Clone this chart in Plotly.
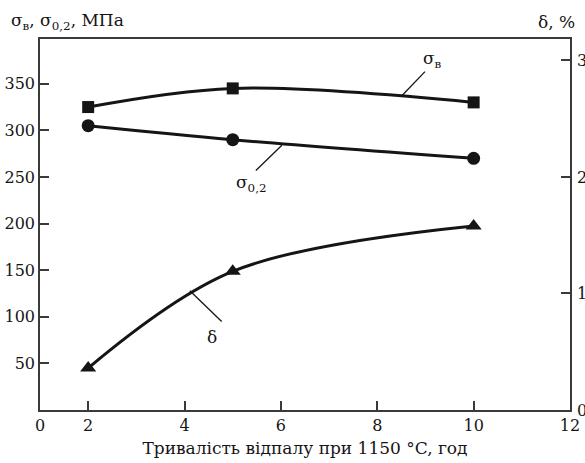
import plotly.graph_objects as go

# Data
hours = [2, 5, 10]
sigma_b = [325, 345, 330]      # MPa
sigma_02 = [305, 290, 270]     # MPa
delta = [0.36, 1.19, 1.58]     # %

x_tickvals = [1, 2, 4, 6, 8, 10, 12]
x_ticktext = ["0", "2", "4", "6", "8", "10", "12"]
y_tickvals = [50, 100, 150, 200, 250, 300, 350]
y2_tickvals = [0, 1, 2, 3]

FONT = "DejaVu Serif"
INK = "#151515"
AXC = "#3a3a3a"
FS = 16
FT = 17

fig = go.Figure()
fig.add_trace(go.Scatter(x=hours, y=sigma_b, mode="lines+markers",
                         line=dict(color=INK, width=3, shape="spline", smoothing=1.0),
                         marker=dict(symbol="square", size=12, color=INK),
                         showlegend=False))
fig.add_trace(go.Scatter(x=hours, y=sigma_02, mode="lines+markers",
                         line=dict(color=INK, width=3, shape="spline", smoothing=1.0),
                         marker=dict(symbol="circle", size=13, color=INK),
                         showlegend=False))
fig.add_trace(go.Scatter(x=hours, y=delta, mode="lines+markers", yaxis="y2",
                         line=dict(color=INK, width=3, shape="spline", smoothing=1.0),
                         marker=dict(symbol="triangle-up", size=14, color=INK),
                         showlegend=False))

# leader lines (x0, y0, x1, y1) in data coords, and labels
leaders = [
    (8.49, 336, 8.99, 363),
    (6.02, 284, 5.48, 257),
    (4.11, 128, 4.77, 95),
]
labels = [
    (9.15, 376, "σ<sub>в</sub>"),
    (5.38, 243, "σ<sub>0,2</sub>"),
    (4.57, 78, "δ"),
]
for x0, y0, x1, y1 in leaders:
    fig.add_shape(type="line", x0=x0, y0=y0, x1=x1, y1=y1, xref="x", yref="y",
                  line=dict(color=INK, width=1.3))
for lx, ly, txt in labels:
    fig.add_annotation(x=lx, y=ly, xref="x", yref="y", text=txt, showarrow=False,
                       font=dict(family=FONT, size=FT, color=INK))

fig.add_annotation(x=-0.058, y=1.047, xref="paper", yref="paper", xanchor="left",
                   yanchor="middle", text="σ<sub>в</sub>, σ<sub>0,2</sub>, МПа",
                   showarrow=False, font=dict(family=FONT, size=FT, color=INK))
fig.add_annotation(x=0.935, y=1.047, xref="paper", yref="paper", xanchor="left",
                   yanchor="middle", text="δ, %",
                   showarrow=False, font=dict(family=FONT, size=FT, color=INK))

fig.update_layout(
    width=585, height=463, autosize=False,
    margin=dict(l=40, r=15, t=39, b=53),
    paper_bgcolor="white", plot_bgcolor="white",
    font=dict(family=FONT, size=FS, color=INK),
    xaxis=dict(range=[1, 12], tickvals=x_tickvals, ticktext=x_ticktext,
               ticks="inside", ticklen=9, tickwidth=1.5, tickcolor=AXC,
               showline=True, linecolor=AXC, linewidth=1.5, mirror=True,
               showgrid=False, zeroline=False, automargin=False,
               tickfont=dict(family=FONT, size=FS),
               title=dict(text="Тривалість відпалу при 1150 °C, год",
                          font=dict(family=FONT, size=FT), standoff=8)),
    yaxis=dict(range=[0, 398], tickvals=y_tickvals,
               ticks="inside", ticklen=9, tickwidth=1.5, tickcolor=AXC,
               showline=True, linecolor=AXC, linewidth=1.5, automargin=False,
               tickfont=dict(family=FONT, size=FS),
               showgrid=False, zeroline=False),
    yaxis2=dict(range=[0, 3.184], tickvals=y2_tickvals, overlaying="y", side="right",
                ticks="inside", ticklen=9, tickwidth=1.5, tickcolor=AXC,
                showline=True, linecolor=AXC, linewidth=1.5, automargin=False,
                tickfont=dict(family=FONT, size=FS), ticklabelstandoff=2,
                showgrid=False, zeroline=False),
)

fig.write_html("out.html")
